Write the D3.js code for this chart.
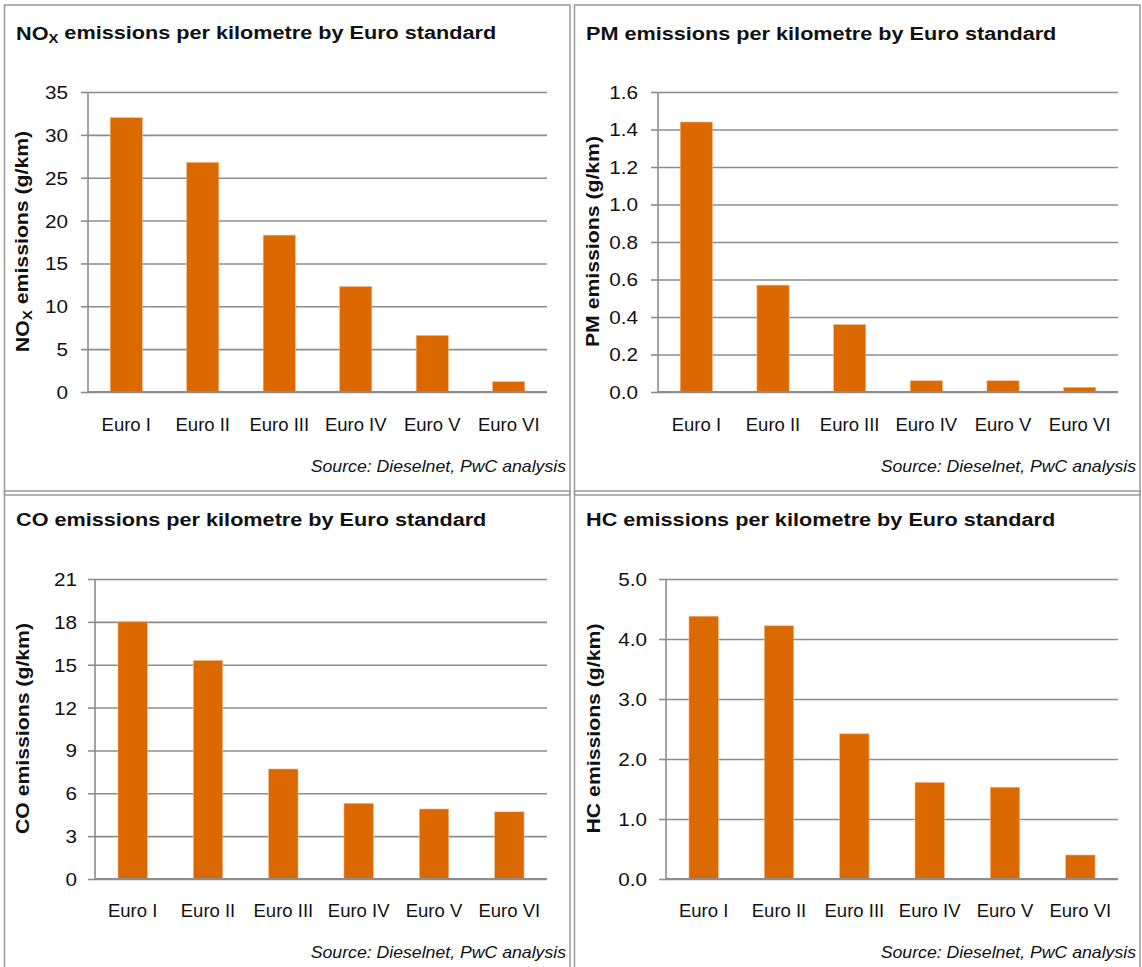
<!DOCTYPE html>
<html>
<head>
<meta charset="utf-8">
<script src="https://cdn.jsdelivr.net/npm/d3@7"></script>
<style>
  html, body { margin: 0; padding: 0; background: #fff; }
  svg { display: block; }
  text { font-family: "Liberation Sans", Arial, sans-serif; fill: #111; }
</style>
</head>
<body>
<svg id="chart" width="1142" height="967"></svg>
<script>
// ---- data ----
const categories = ["Euro I", "Euro II", "Euro III", "Euro IV", "Euro V", "Euro VI"];
const noxValues = [32.0, 26.8, 18.3, 12.3, 6.6, 1.2];
const pmValues  = [1.44, 0.57, 0.36, 0.06, 0.06, 0.025];
const coValues  = [18.0, 15.3, 7.7, 5.3, 4.9, 4.7];
const hcValues  = [4.38, 4.22, 2.42, 1.61, 1.53, 0.40];
const noxTicks = [0, 5, 10, 15, 20, 25, 30, 35];
const pmTicks  = [0, 0.2, 0.4, 0.6, 0.8, 1.0, 1.2, 1.4, 1.6];
const coTicks  = [0, 3, 6, 9, 12, 15, 18, 21];
const hcTicks  = [0, 1, 2, 3, 4, 5];
const sourceText = "Source: Dieselnet, PwC analysis";

// ---- layout ----
const panels = [
  { title: ["NO", "X", " emissions per kilometre by Euro standard"], yLabel: ["NO", "X", " emissions (g/km)"],
    values: noxValues, ticks: noxTicks, fmt: d3.format("d"),
    box: [4.5, 5, 565.5, 490], plot: { x0: 88, x1: 547, y0: 92, y1: 392 }, titleY: 40, yTitleX: 29, tickRight: 68,
    xLabelY: 431, sourceY: 472, sourceRight: 566, pad: 0.58 },
  { title: ["PM emissions per kilometre by Euro standard"], yLabel: ["PM emissions (g/km)"],
    values: pmValues, ticks: pmTicks, fmt: d3.format(".1f"),
    box: [574.5, 5, 565.5, 490], plot: { x0: 658, x1: 1118, y0: 92, y1: 392 }, titleY: 40, yTitleX: 599, tickRight: 638,
    xLabelY: 431, sourceY: 472, sourceRight: 1136, pad: 0.58 },
  { title: ["CO emissions per kilometre by Euro standard"], yLabel: ["CO emissions (g/km)"],
    values: coValues, ticks: coTicks, fmt: d3.format("d"),
    box: [4.5, 491, 565.5, 490], plot: { x0: 95, x1: 547, y0: 579, y1: 879 }, titleY: 526, yTitleX: 29, tickRight: 77,
    xLabelY: 917, sourceY: 958, sourceRight: 566, pad: 0.61 },
  { title: ["HC emissions per kilometre by Euro standard"], yLabel: ["HC emissions (g/km)"],
    values: hcValues, ticks: hcTicks, fmt: d3.format(".1f"),
    box: [574.5, 491, 565.5, 490], plot: { x0: 666, x1: 1118, y0: 579, y1: 879 }, titleY: 526, yTitleX: 600, tickRight: 647,
    xLabelY: 917, sourceY: 958, sourceRight: 1136, pad: 0.61 }
];

const BAR = "#dc6900";
const GRID = "#8c8c8c";
const svg = d3.select("#chart");

function addParts(sel, parts, subSize) {
  parts.forEach((p, i) => {
    const t = sel.append("tspan").text(p);
    if (parts.length === 3 && i === 1) {
      t.attr("font-size", subSize).attr("dy", "0.25em");
    } else if (parts.length === 3 && i === 2) {
      t.attr("dy", "-0.25em");
    }
  });
}

panels.forEach(p => {
  const g = svg.append("g");
  // border
  g.append("rect")
    .attr("x", p.box[0]).attr("y", p.box[1]).attr("width", p.box[2]).attr("height", p.box[3])
    .attr("fill", "none").attr("stroke", "#9a9a9a").attr("stroke-width", 1.5);

  // title
  const title = g.append("text")
    .attr("transform", `translate(${p.box[0] + 11.5},${p.titleY}) scale(1.14,1)`)
    .attr("font-size", 19).attr("font-weight", "bold");
  addParts(title, p.title, 13);

  const x = d3.scaleBand().domain(categories).range([p.plot.x0, p.plot.x1])
    .paddingInner(p.pad).paddingOuter(p.pad / 2);
  const y = d3.scaleLinear().domain([0, d3.max(p.ticks)]).range([p.plot.y1, p.plot.y0]);

  // gridlines
  const grid = g.append("g").attr("transform", `translate(${p.plot.x0},0)`)
    .call(d3.axisLeft(y).tickValues(p.ticks).tickSize(-(p.plot.x1 - p.plot.x0)).tickFormat(""));
  grid.select(".domain").remove();
  grid.selectAll("line").attr("stroke", GRID).attr("stroke-width", 1.6);

  // bars
  g.selectAll("rect.bar").data(p.values).join("rect").attr("class", "bar")
    .attr("x", (d, i) => x(categories[i]))
    .attr("width", x.bandwidth())
    .attr("y", d => y(d))
    .attr("height", d => y(0) - y(d))
    .attr("fill", BAR)
    .attr("stroke", "#f0b78a").attr("stroke-width", 0.6);

  // y axis
  const ya = g.append("g").attr("transform", `translate(${p.plot.x0},0)`)
    .call(d3.axisLeft(y).tickValues(p.ticks).tickSize(7).tickFormat(p.fmt));
  ya.select(".domain").attr("stroke", GRID).attr("stroke-width", 1.6)
    .attr("d", `M0,${p.plot.y0}V${p.plot.y1}`);
  ya.selectAll(".tick line").attr("stroke", GRID).attr("stroke-width", 1.6);
  ya.selectAll(".tick text")
    .attr("x", null).attr("dy", "0.36em")
    .attr("transform", `translate(${p.tickRight - p.plot.x0},0) scale(1.15,1)`)
    .attr("font-size", 18).attr("font-family", null).attr("fill", "#111");

  // x axis
  const xa = g.append("g").attr("transform", `translate(0,${p.plot.y1})`)
    .call(d3.axisBottom(x).tickSize(0).tickPadding(0));
  xa.select(".domain").attr("stroke", GRID).attr("stroke-width", 1.8)
    .attr("d", `M${p.plot.x0},0H${p.plot.x1}`);
  xa.selectAll(".tick text")
    .attr("y", p.xLabelY - p.plot.y1).attr("dy", null)
    .attr("font-size", 18.5).attr("font-family", null).attr("fill", "#111");

  // y title
  const yt = g.append("text")
    .attr("transform", `translate(${p.yTitleX},${(p.plot.y0 + p.plot.y1) / 2 - 0.5}) rotate(-90) scale(1.18,1)`)
    .attr("text-anchor", "middle").attr("font-size", 18).attr("font-weight", "bold");
  addParts(yt, p.yLabel, 13);

  // source
  g.append("text")
    .attr("transform", `translate(${p.sourceRight},${p.sourceY}) scale(1.04,1)`)
    .attr("text-anchor", "end").attr("font-size", 17).attr("font-style", "italic")
    .text(sourceText);
});
</script>
</body>
</html>
